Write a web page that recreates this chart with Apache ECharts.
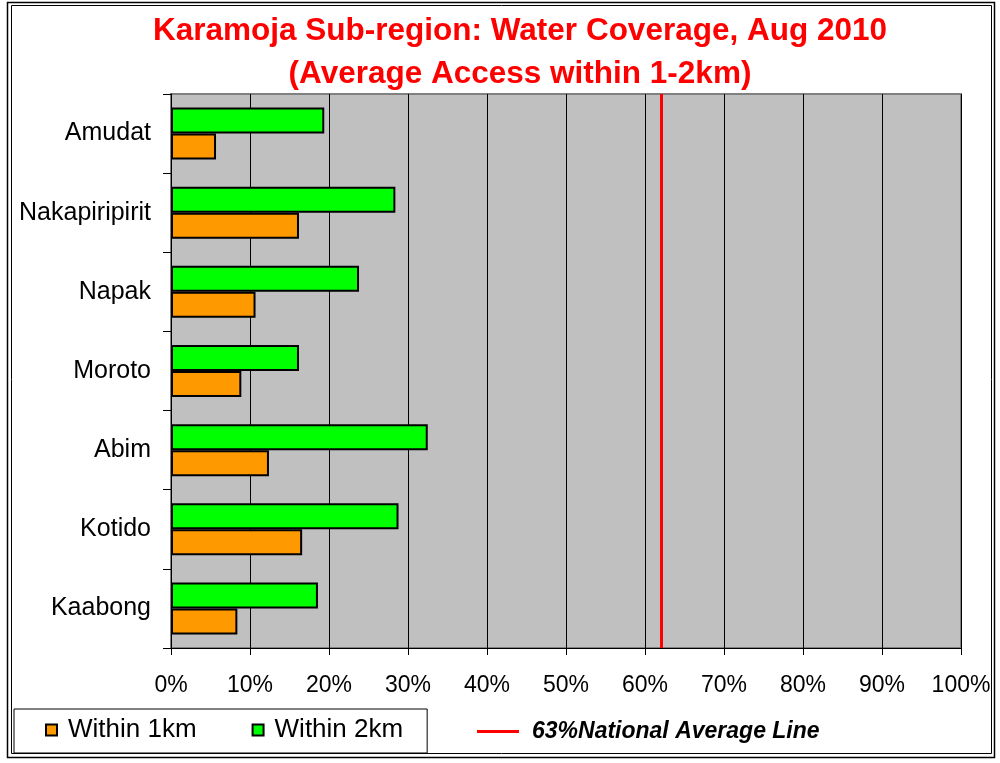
<!DOCTYPE html>
<html>
<head>
<meta charset="utf-8">
<script src="https://cdn.jsdelivr.net/npm/echarts@6/dist/echarts.min.js"></script>
<style>
  html, body { margin: 0; padding: 0; background: #fff; }
  #chart { width: 1000px; height: 763px; }
</style>
</head>
<body>
<div id="chart"></div>
<script>
// districts, top to bottom
const districts = ['Amudat', 'Nakapiripirit', 'Napak', 'Moroto', 'Abim', 'Kotido', 'Kaabong']
// % coverage
const within1km = [5.7, 16.2, 10.7, 8.9, 12.4, 16.6, 8.4]
const within2km = [19.4, 28.4, 23.8, 16.2, 32.5, 28.8, 18.6]
const nationalAvg = 62
const xTicks = { min: 0, max: 100, interval: 10 }

const font = 'Liberation Sans, Arial, sans-serif'
const myChart = echarts.init(document.getElementById('chart'), null, { renderer: 'canvas' })

myChart.setOption({
  animation: false,
  title: {
    text: 'Karamoja Sub-region: Water Coverage, Aug 2010\n(Average Access within 1-2km)',
    left: 520,
    top: 10,
    padding: 0,
    textAlign: 'center',
    textStyle: {
      color: '#ff0000',
      fontFamily: font,
      fontWeight: 'bold',
      fontSize: 31.5,
      lineHeight: 43,
    },
  },
  grid: {
    left: 171,
    right: 39,
    top: 94,
    bottom: 115,
    show: true,
    backgroundColor: '#c0c0c0',
    borderColor: '#808080',
    borderWidth: 2,
  },
  legend: [
    {
      data: ['Within 1km', 'Within 2km'],
      left: 14,
      top: 709,
      orient: 'horizontal',
      icon: 'rect',
      itemWidth: 11,
      itemHeight: 11,
      itemGap: 55,
      padding: [8, 24, 10, 31],
      borderColor: '#000',
      borderWidth: 1,
      backgroundColor: '#fff',
      selectedMode: false,
      textStyle: {
        fontFamily: font,
        fontSize: 26,
        color: '#000',
        padding: [0, 0, 0, 6],
      },
    },
    {
      data: ['63%National Average Line'],
      left: 477,
      top: 720,
      padding: 0,
      icon: 'rect',
      itemWidth: 42,
      itemHeight: 3,
      selectedMode: false,
      textStyle: {
        fontFamily: font,
        fontSize: 23,
        fontStyle: 'italic',
        fontWeight: 'bold',
        color: '#000',
        padding: [2, 0, 0, 8],
      },
    },
  ],
  xAxis: {
    type: 'value',
    min: xTicks.min,
    max: xTicks.max,
    interval: xTicks.interval,
    axisLine: { show: true, lineStyle: { color: '#000', width: 1 } },
    axisTick: { show: true, length: 7, lineStyle: { color: '#000' } },
    axisLabel: {
      formatter: '{value}%',
      fontFamily: font,
      fontSize: 23,
      color: '#000',
      margin: 26,
    },
    splitLine: { show: true, lineStyle: { color: '#000', width: 1 } },
  },
  yAxis: [
    {
      type: 'category',
      data: districts,
      inverse: true,
      axisLine: { show: true, onZero: false, lineStyle: { color: '#000', width: 1 } },
      axisTick: { show: true, length: 8, lineStyle: { color: '#000' } },
      axisLabel: {
        fontFamily: font,
        fontSize: 25,
        color: '#000',
        margin: 20,
      },
      splitLine: { show: false },
    },
  ],
  series: [
    {
      name: 'Within 2km',
      type: 'bar',
      data: within2km,
      barWidth: 26,
      barGap: '0%',
      itemStyle: { color: '#00ff00', borderColor: '#000', borderWidth: 2 },
      markLine: {
        silent: true,
        symbol: 'none',
        label: { show: false },
        lineStyle: { color: '#ff0000', width: 3, type: 'solid' },
        data: [{ xAxis: nationalAvg }],
      },
    },
    {
      name: 'Within 1km',
      type: 'bar',
      data: within1km,
      barWidth: 26,
      barGap: '0%',
      itemStyle: { color: '#ff9900', borderColor: '#000', borderWidth: 2 },
    },
    {
      // only here so the legend shows the average line
      name: '63%National Average Line',
      type: 'line',
      data: [],
      itemStyle: { color: '#ff0000' },
      lineStyle: { color: '#ff0000' },
    },
  ],
  graphic: [
    {
      type: 'rect',
      shape: { x: 7.5, y: 2.5, width: 987, height: 755 },
      style: { fill: null, stroke: '#000', lineWidth: 1.5 },
      silent: true,
    },
    {
      type: 'rect',
      shape: { x: 11.5, y: 5.5, width: 980, height: 748 },
      style: { fill: null, stroke: '#000', lineWidth: 1 },
      silent: true,
    },
  ],
})
</script>
</body>
</html>
